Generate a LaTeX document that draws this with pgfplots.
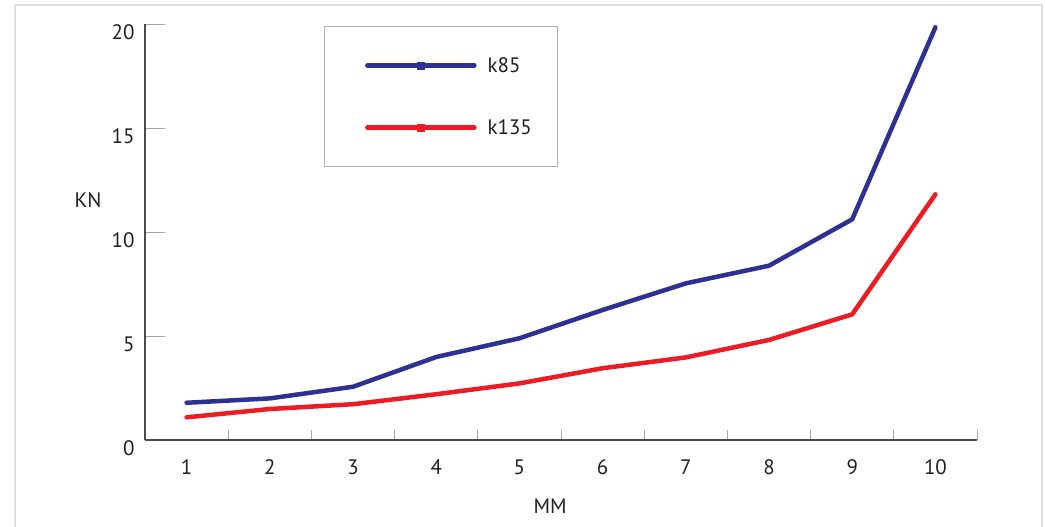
\documentclass[border=0pt]{standalone}
\usepackage{pgfplots}
\pgfplotsset{compat=1.18}
\usepackage{fontspec}
\setmainfont{PT Sans}

\definecolor{kblue}{HTML}{2E3192}
\definecolor{kred}{HTML}{ED1C24}
\definecolor{txt}{HTML}{231F20}

\begin{document}
\begin{tikzpicture}
\useasboundingbox (0,0) rectangle (1045bp,527bp);
% outer frame
\draw[black!12, line width=1.5bp] (15bp,-5bp) -- (15bp,522bp) -- (1042bp,522bp) -- (1042bp,-5bp);
\begin{axis}[
   at={(145bp,87bp)}, anchor=south west,
   scale only axis,
   width=832bp, height=416bp,
   xmin=0.5, xmax=10.5,
   ymin=0, ymax=20,
   axis x line*=bottom,
   axis y line*=left,
   axis line style={draw=black!70, line width=1.2bp},
   xtick={1,...,10},
   xtick style={draw=none},
   minor xtick={1.5,2.5,...,10.5},
   minor x tick style={draw=black!35, line width=0.9bp},
   minor tick length=10bp,
   ytick={0,5,10,15,20},
   ytick style={draw=black!35, line width=0.9bp},
   major tick length=20bp,
   tick align=inside,
   /pgf/number format/assume math mode=true,
   ticklabel style={font=\fontsize{21}{25}\selectfont, text=txt},
   yticklabel style={xshift=-7bp, yshift=-8bp},
   xticklabel style={yshift=-16bp},
   xlabel={MM},
   ylabel={KN},
   label style={font=\fontsize{21}{25}\selectfont, text=txt},
   xlabel style={at={(axis description cs:0.487,-0.159)}, anchor=center},
   ylabel style={rotate=-90, at={(axis description cs:-0.0685,0.577)}, anchor=center},
   legend style={
      at={(axis description cs:0.215,0.995)}, anchor=north west,
      draw=black!30, line width=1bp, fill=white,
      inner xsep=0pt, inner ysep=32bp,
      row sep=48bp, column sep=11bp,
      font=\fontsize{21}{25}\selectfont, text=txt,
      nodes={inner sep=0pt, text height=14bp, text depth=0pt},
      cells={anchor=west},
   },
   legend image code/.code={
      \path[draw=none] (-43bp,0bp) -- (0bp,0bp);
      \draw[#1, line width=4.5bp, line cap=round] (0bp,0bp) -- (107bp,0bp);
      \fill[#1, draw=none] (50bp,-4bp) rectangle (58bp,4bp);
   },
]
\addplot[kblue, line width=4.5bp, line join=round, line cap=round] coordinates {
   (1,1.79) (2,2.00) (3,2.56) (4,3.99) (5,4.89)
   (6,6.25) (7,7.53) (8,8.38) (9,10.61) (10,19.84)
};
\addlegendentry{k85}
\addplot[kred, line width=4.5bp, line join=round, line cap=round] coordinates {
   (1,1.09) (2,1.49) (3,1.72) (4,2.20) (5,2.72)
   (6,3.45) (7,3.97) (8,4.81) (9,6.04) (10,11.81)
};
\addlegendentry{k135\rule{26bp}{0pt}}
\end{axis}
\end{tikzpicture}
\end{document}
